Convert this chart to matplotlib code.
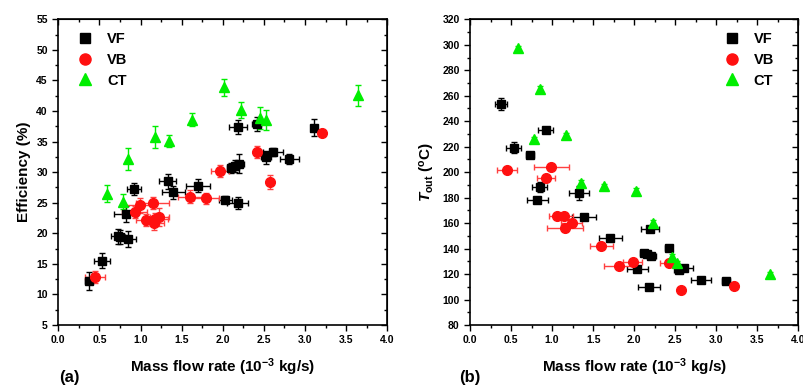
import numpy as np
import matplotlib
matplotlib.use('Agg')
import matplotlib.pyplot as plt
from matplotlib.ticker import MultipleLocator
from matplotlib.lines import Line2D

plt.rcParams['font.family'] = ['Liberation Sans', 'DejaVu Sans']
plt.rcParams['font.weight'] = 'bold'
plt.rcParams['mathtext.fontset'] = 'custom'
plt.rcParams['mathtext.rm'] = 'Liberation Sans:bold'
plt.rcParams['mathtext.bf'] = 'Liberation Sans:bold'
plt.rcParams['mathtext.it'] = 'Liberation Sans:bold:italic'

# ---- (a) efficiency vs mass flow rate ----
vf_x_a = [0.37, 0.53, 0.72, 0.75, 0.85, 0.82, 0.92, 1.33, 1.40, 1.70, 2.03, 2.18,
          2.19, 2.41, 2.10, 2.15, 2.20, 2.53, 2.61, 2.81, 3.11]
vf_y_a = [12.2, 15.5, 19.5, 19.4, 19.0, 23.1, 27.3, 28.5, 26.7, 27.8, 25.5, 24.9,
          37.4, 37.9, 30.7, 31.0, 31.4, 32.4, 33.3, 32.1, 37.3]
vf_xe_a = [0.05, 0.10, 0.08, 0.06, 0.10, 0.14, 0.08, 0.10, 0.14, 0.15, 0.08, 0.13,
           0.11, 0.05, 0.05, 0.05, 0.06, 0.06, 0.12, 0.12, 0.04]
vf_ye_a = [1.5, 1.2, 1.2, 1.1, 1.3, 1.3, 1.0, 1.2, 1.1, 1.1, 0.6, 1.0,
           1.1, 1.2, 0.8, 1.0, 1.5, 1.0, 0.6, 0.8, 1.35]

vb_x_a = [0.45, 0.93, 0.99, 1.15, 1.07, 1.16, 1.18, 1.23, 1.60, 1.80, 1.97, 2.42, 2.57, 3.21]
vb_y_a = [12.9, 23.5, 24.6, 25.0, 22.2, 21.7, 22.4, 22.7, 26.0, 25.7, 30.2, 33.3, 28.4, 36.4]
vb_xe_a = [0.12, 0.15, 0.18, 0.20, 0.12, 0.12, 0.15, 0.12, 0.15, 0.15, 0.11, 0.04, 0.02, 0.0]
vb_ye_a = [1.0, 1.0, 1.2, 1.0, 1.0, 1.2, 1.0, 1.5, 1.0, 0.9, 1.0, 1.0, 1.1, 0.0]

ct_x_a = [0.59, 0.79, 0.85, 1.17, 1.35, 1.63, 2.02, 2.22, 2.45, 2.52, 3.64]
ct_y_a = [26.5, 25.2, 32.1, 35.8, 35.1, 38.6, 43.9, 40.1, 38.9, 38.5, 42.6]
ct_ye_a = [1.4, 1.3, 1.8, 1.8, 1.0, 1.1, 1.4, 1.3, 1.8, 1.6, 1.7]

# ---- (b) outlet temperature vs mass flow rate ----
vf_x_b = [0.38, 0.53, 0.73, 0.92, 0.85, 0.82, 1.33, 1.39, 1.71, 2.19, 2.42, 2.12,
          2.16, 2.21, 2.04, 2.54, 2.61, 2.81, 3.12, 2.18]
vf_y_b = [253.6, 219.3, 213.1, 233.2, 188.5, 178.2, 183.4, 165.0, 148.0, 155.1, 140.1, 136.7,
          136.0, 134.0, 123.8, 123.0, 124.4, 115.7, 114.7, 109.7]
vf_xe_b = [0.07, 0.09, 0.05, 0.09, 0.09, 0.13, 0.12, 0.15, 0.14, 0.11, 0.04, 0.05,
           0.05, 0.05, 0.13, 0.05, 0.11, 0.12, 0.05, 0.13]
vf_ye_b = [4.8, 4.5, 2.0, 2.0, 4.0, 1.5, 5.5, 2.0, 2.0, 2.0, 2.0, 2.0,
           2.0, 2.0, 2.0, 2.0, 2.0, 1.5, 1.5, 1.5]

vb_x_b = [0.45, 0.99, 0.93, 1.06, 1.15, 1.24, 1.16, 1.60, 1.81, 1.98, 2.42, 2.57, 3.22]
vb_y_b = [201.8, 204.4, 195.8, 165.6, 165.4, 160.3, 155.8, 141.9, 126.5, 129.6, 128.8, 107.8, 110.7]
vb_xe_b = [0.12, 0.21, 0.11, 0.10, 0.10, 0.13, 0.22, 0.14, 0.18, 0.12, 0.10, 0.0, 0.0]
vb_ye_b = [2.0, 2.0, 2.0, 2.0, 2.0, 2.0, 2.0, 2.0, 2.0, 2.0, 2.0, 0.0, 0.0]

ct_x_b = [0.59, 0.85, 0.78, 1.17, 1.35, 1.63, 2.02, 2.23, 2.46, 2.52, 3.65]
ct_y_b = [297.3, 265.5, 225.9, 229.0, 191.5, 189.0, 185.5, 160.3, 133.4, 128.5, 119.9]
ct_ye_b = [2.0, 2.0, 2.0, 2.0, 2.0, 2.0, 2.0, 2.0, 2.0, 2.0, 2.0]

GREEN = '#00ee00'
RED = '#ff1010'

fig = plt.figure(figsize=(8.04, 3.91), dpi=100)
ax1 = fig.add_axes([0.0725, 0.1688, 0.4092, 0.7818])
ax2 = fig.add_axes([0.5846, 0.1688, 0.4084, 0.7818])


def draw(ax, vx, vy, vxe, vye, bx, by, bxe, bye, cx, cy, cye):
    ax.errorbar(vx, vy, xerr=vxe, yerr=vye, fmt='s', color='black', ms=5.5,
                ecolor='black', elinewidth=1, capsize=2, zorder=3)
    ax.errorbar(bx, by, xerr=bxe, yerr=bye, fmt='o', color=RED, ms=7,
                ecolor='#ff4040', elinewidth=1, capsize=2, zorder=3)
    ax.errorbar(cx, cy, yerr=cye, fmt='^', color=GREEN, ms=7.5,
                ecolor=GREEN, elinewidth=1, capsize=2, zorder=3)


draw(ax1, vf_x_a, vf_y_a, vf_xe_a, vf_ye_a, vb_x_a, vb_y_a, vb_xe_a, vb_ye_a,
     ct_x_a, ct_y_a, ct_ye_a)
draw(ax2, vf_x_b, vf_y_b, vf_xe_b, vf_ye_b, vb_x_b, vb_y_b, vb_xe_b, vb_ye_b,
     ct_x_b, ct_y_b, ct_ye_b)

ax1.set_xlim(0, 4)
ax1.set_ylim(5, 55)
ax1.yaxis.set_major_locator(MultipleLocator(5))
ax1.yaxis.set_minor_locator(MultipleLocator(2.5))
ax2.set_xlim(0, 4)
ax2.set_ylim(80, 320)
ax2.yaxis.set_major_locator(MultipleLocator(20))
ax2.yaxis.set_minor_locator(MultipleLocator(10))

for ax in (ax1, ax2):
    ax.xaxis.set_major_locator(MultipleLocator(0.5))
    ax.xaxis.set_minor_locator(MultipleLocator(0.25))
    ax.xaxis.set_major_formatter(plt.FuncFormatter(lambda v, p: f'{v:.1f}'))
    ax.tick_params(which='major', direction='out', length=4, width=1, labelsize=7.5)
    ax.tick_params(which='minor', direction='out', length=2.5, width=1)
    for s in ax.spines.values():
        s.set_linewidth(1.2)
    # mirrored inner ticks on top and right
    top = ax.secondary_xaxis('top')
    top.xaxis.set_major_locator(MultipleLocator(0.5))
    top.xaxis.set_minor_locator(MultipleLocator(0.25))
    top.tick_params(which='major', direction='in', length=4, width=1, labeltop=False)
    top.tick_params(which='minor', direction='in', length=2.5, width=1)
    right = ax.secondary_yaxis('right')
    right.yaxis.set_major_locator(ax.yaxis.get_major_locator())
    right.yaxis.set_minor_locator(ax.yaxis.get_minor_locator())
    right.tick_params(which='major', direction='in', length=4, width=1, labelright=False)
    right.tick_params(which='minor', direction='in', length=2.5, width=1)
    ax.set_xlabel('Mass flow rate (10$^{-3}$ kg/s)', fontsize=11, fontweight='bold', labelpad=8)
    for lab in ax.get_xticklabels() + ax.get_yticklabels():
        lab.set_fontweight('bold')

ax1.set_ylabel('Efficiency (%)', fontsize=11, fontweight='bold', labelpad=4)
ax2.set_ylabel(r'$T_{\rm out}$ ($^{\rm o}$C)', fontsize=11, fontweight='bold', labelpad=4)

handles = [
    Line2D([], [], ls='none', marker='s', color='black', ms=7),
    Line2D([], [], ls='none', marker='o', color=RED, ms=8),
    Line2D([], [], ls='none', marker='^', color=GREEN, ms=9),
]
names = ['VF', 'VB', 'CT']
leg_kw = dict(frameon=False, handletextpad=0.9, labelspacing=0.45,
              borderaxespad=0.5, handlelength=1.2, prop={'weight': 'bold', 'size': 10.5})
ax1.legend(handles, names, loc='upper left', bbox_to_anchor=(0.015, 1.0), **leg_kw)
ax2.legend(handles, names, loc='upper right', bbox_to_anchor=(0.965, 1.0), **leg_kw)

fig.text(0.073, 0.022, '(a)', fontsize=12, fontweight='bold')
fig.text(0.571, 0.022, '(b)', fontsize=12, fontweight='bold')

fig.savefig('out.png', dpi=100)
